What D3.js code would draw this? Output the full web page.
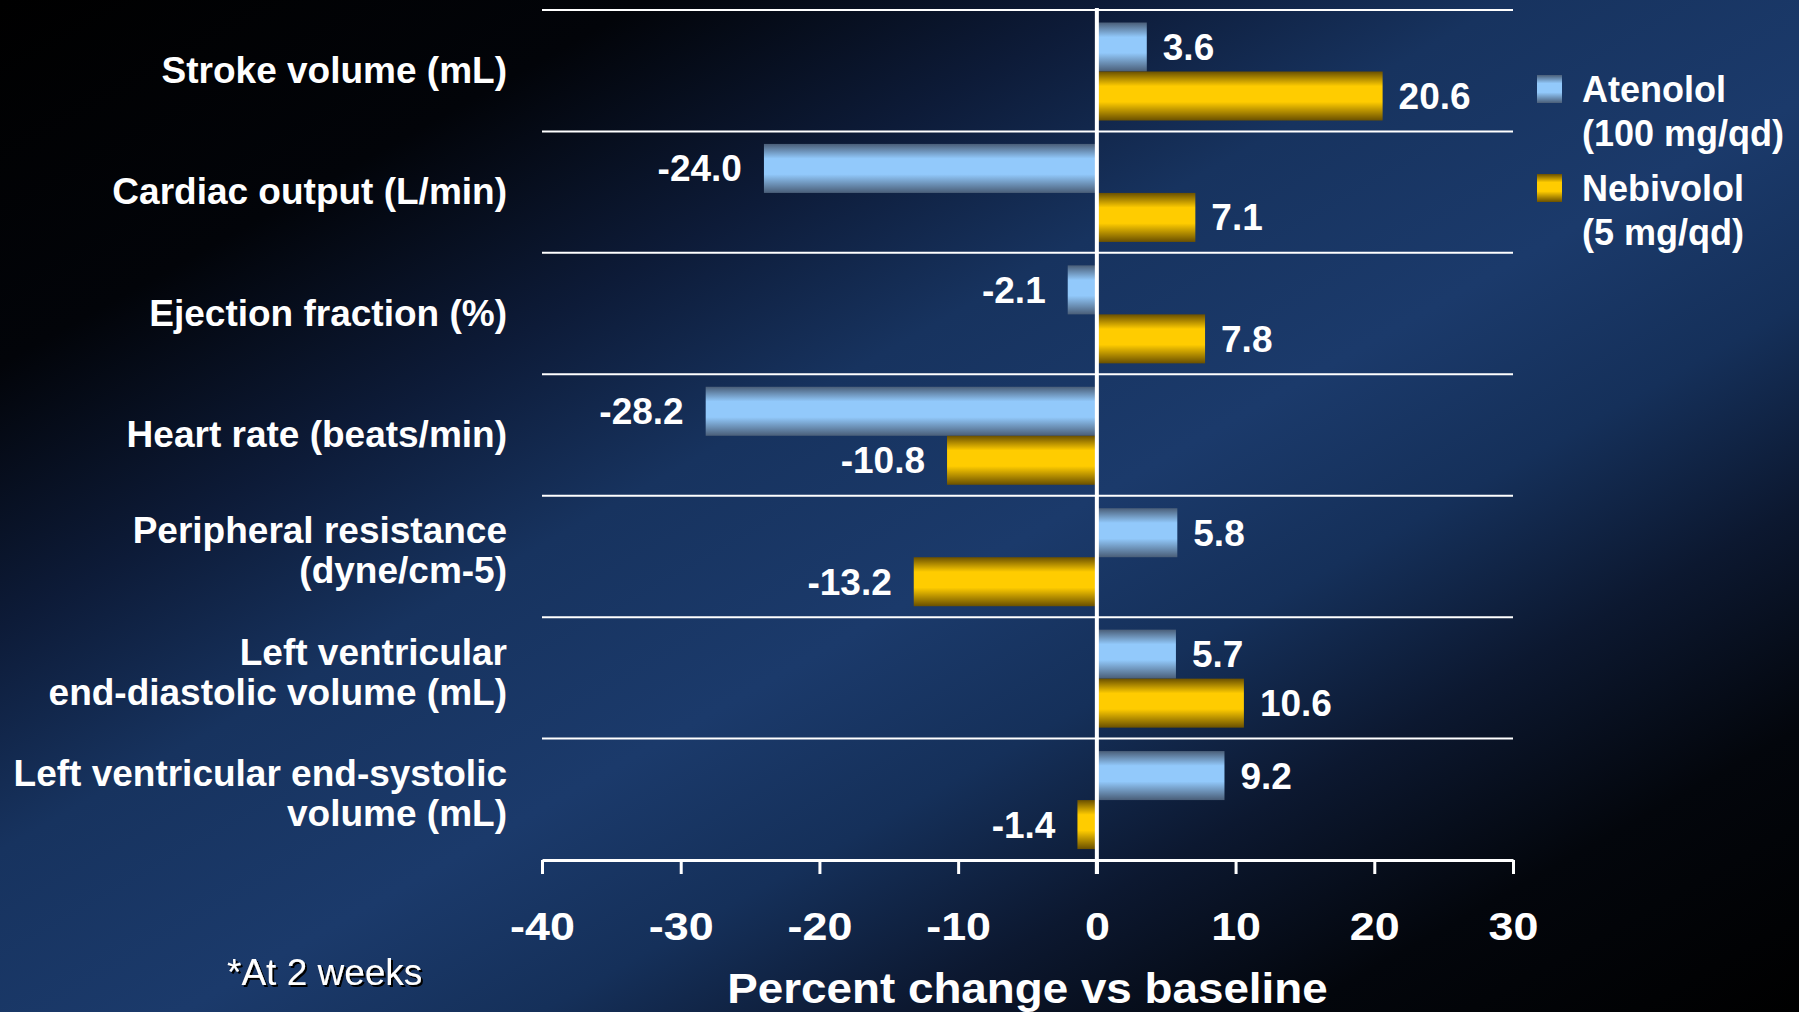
<!DOCTYPE html>
<html>
<head>
<meta charset="utf-8">
<script src="https://cdn.jsdelivr.net/npm/d3@7"></script>
<style>
  html, body { margin: 0; padding: 0; background: #000; }
  svg { display: block; }
  text { font-family: "Liberation Sans", Arial, sans-serif; fill: #fff; }
</style>
</head>
<body>
<svg id="chart" width="1799" height="1012"></svg>
<script>
// Haemodynamic change from baseline, two beta-blockers
const categories = [
  ["Stroke volume (mL)"],
  ["Cardiac output (L/min)"],
  ["Ejection fraction (%)"],
  ["Heart rate (beats/min)"],
  ["Peripheral resistance", "(dyne/cm-5)"],
  ["Left ventricular", "end-diastolic volume (mL)"],
  ["Left ventricular end-systolic", "volume (mL)"]
];
const seriesNames = ["Atenolol", "Nebivolol"];
const seriesDoses = ["(100 mg/qd)", "(5 mg/qd)"];
const atenolol = [3.6, -24.0, -2.1, -28.2, 5.8, 5.7, 9.2];
const nebivolol = [20.6, 7.1, 7.8, -10.8, -13.2, 10.6, -1.4];
const xTicks = [-40, -30, -20, -10, 0, 10, 20, 30];
const axisTitle = "Percent change vs baseline";
const footnote = "*At 2 weeks";

// Plain hyphen for negative numbers
const locale = d3.formatLocale({ decimal: ".", thousands: ",", grouping: [3], currency: ["", ""], minus: "-" });
const fmtVal = locale.format(".1f");
const fmtTick = locale.format("d");

const svg = d3.select("#chart");
const W = 1799, H = 1012;
const defs = svg.append("defs");

// Slide background: dark corners, blue diagonal band
const bg = defs.append("linearGradient").attr("id", "bg")
  .attr("x1", 0).attr("y1", 0).attr("x2", 1).attr("y2", 1);
[[0, "#000000"], [0.18, "#020409"], [0.31, "#0d1b38"], [0.42, "#17335f"],
 [0.55, "#1b3a6b"], [0.65, "#15305a"], [0.75, "#0c1830"], [0.86, "#03060c"], [1, "#000000"]]
  .forEach(([o, c]) => bg.append("stop").attr("offset", o).attr("stop-color", c));
svg.append("rect").attr("width", W).attr("height", H).attr("fill", "url(#bg)");

// Bar fills: dark edges, bright middle
function barGradient(id, dark, light) {
  const g = defs.append("linearGradient").attr("id", id)
    .attr("x1", 0).attr("y1", 0).attr("x2", 0).attr("y2", 1);
  [[0, dark], [0.3, light], [0.62, light], [1, dark]]
    .forEach(([o, c]) => g.append("stop").attr("offset", o).attr("stop-color", c));
}
barGradient("gAten", "#4a5e78", "#92c9fb");
barGradient("gNebi", "#6a5000", "#ffcc00");
const fills = ["url(#gAten)", "url(#gNebi)"];

// Text shadow for the footnote
const sh = defs.append("filter").attr("id", "shadow")
  .attr("x", "-10%").attr("y", "-20%").attr("width", "130%").attr("height", "150%");
sh.append("feDropShadow").attr("dx", 2).attr("dy", 2).attr("stdDeviation", 0.6)
  .attr("flood-color", "#000").attr("flood-opacity", 1);

const x = d3.scaleLinear().domain([-40, 30]).range([542, 1513]);
const y = d3.scaleBand().domain(d3.range(categories.length)).range([10, 860]);
const inner = d3.scaleBand().domain([0, 1]).range([12.5, 110.5]);

const rows = categories.map((c, i) => ({ i, label: c, values: [atenolol[i], nebivolol[i]] }));

// Horizontal separators between categories
svg.append("g").selectAll("line").data(rows).join("line")
  .attr("x1", x(-40)).attr("x2", x(30))
  .attr("y1", d => y(d.i)).attr("y2", d => y(d.i))
  .attr("stroke", "#fff").attr("stroke-width", 2);

// Bars
const rowG = svg.append("g").selectAll("g").data(rows).join("g")
  .attr("transform", d => `translate(0,${y(d.i)})`);
rowG.selectAll("rect").data(d => d.values.map((v, s) => ({ v, s }))).join("rect")
  .attr("x", d => x(Math.min(0, d.v)))
  .attr("width", d => Math.abs(x(d.v) - x(0)))
  .attr("y", d => inner(d.s))
  .attr("height", inner.bandwidth())
  .attr("fill", d => fills[d.s]);

// Value labels
rowG.selectAll("text.val").data(d => d.values.map((v, s) => ({ v, s }))).join("text")
  .attr("class", "val")
  .attr("x", d => d.v >= 0 ? x(d.v) + 16 : x(d.v) - 22)
  .attr("y", d => inner(d.s) + inner.bandwidth() / 2)
  .attr("dy", "0.35em")
  .attr("text-anchor", d => d.v >= 0 ? "start" : "end")
  .style("font-size", "37px").style("font-weight", "bold")
  .text(d => fmtVal(d.v));

// Category labels
const lab = svg.append("g").selectAll("text").data(rows).join("text")
  .attr("text-anchor", "end")
  .style("font-size", "37px").style("font-weight", "bold");
lab.each(function(d) {
  const n = d.label.length;
  const cy = y(d.i) + y.bandwidth() / 2;
  d3.select(this).selectAll("tspan").data(d.label).join("tspan")
    .attr("x", 507)
    .attr("y", (t, k) => cy + 12 + (k - (n - 1) / 2) * 40 - (n > 1 ? 5 : 0))
    .text(t => t);
});

// Zero reference line
svg.append("line")
  .attr("x1", x(0)).attr("x2", x(0)).attr("y1", 8).attr("y2", 874)
  .attr("stroke", "#fff").attr("stroke-width", 4);

// X axis
const axis = svg.append("g").attr("transform", "translate(0,860)")
  .call(d3.axisBottom(x).tickValues(xTicks).tickSize(14).tickSizeOuter(0).tickPadding(0).tickFormat(fmtTick));
axis.select(".domain").attr("stroke", "#fff").attr("stroke-width", 3);
axis.selectAll(".tick line").attr("stroke", "#fff").attr("stroke-width", 3);
axis.selectAll(".tick text")
  .attr("y", null).attr("dy", null)
  .attr("transform", "translate(0,80) scale(1.15,1)")
  .style("font-size", "39px").style("font-weight", "bold")
  .style("font-family", "'Liberation Sans', Arial, sans-serif")
  .attr("fill", "#fff");

svg.append("text")
  .attr("transform", `translate(${(x(-40) + x(30)) / 2},1003) scale(1.09,1)`)
  .attr("text-anchor", "middle")
  .style("font-size", "42px").style("font-weight", "bold")
  .text(axisTitle);

// Legend
const leg = svg.append("g").selectAll("g").data(seriesNames).join("g")
  .attr("transform", (d, i) => `translate(1537,${75 + i * 99})`);
leg.append("rect").attr("width", 25).attr("height", 28).attr("fill", (d, i) => fills[i]);
leg.append("text").attr("x", 45).attr("y", 27)
  .style("font-size", "36px").style("font-weight", "bold")
  .text(d => d);
leg.append("text").attr("x", 45).attr("y", 71)
  .style("font-size", "36px").style("font-weight", "bold")
  .text((d, i) => seriesDoses[i]);

// Footnote
svg.append("text").attr("x", 227).attr("y", 985)
  .style("font-size", "37px").attr("filter", "url(#shadow)")
  .text(footnote);
</script>
</body>
</html>
